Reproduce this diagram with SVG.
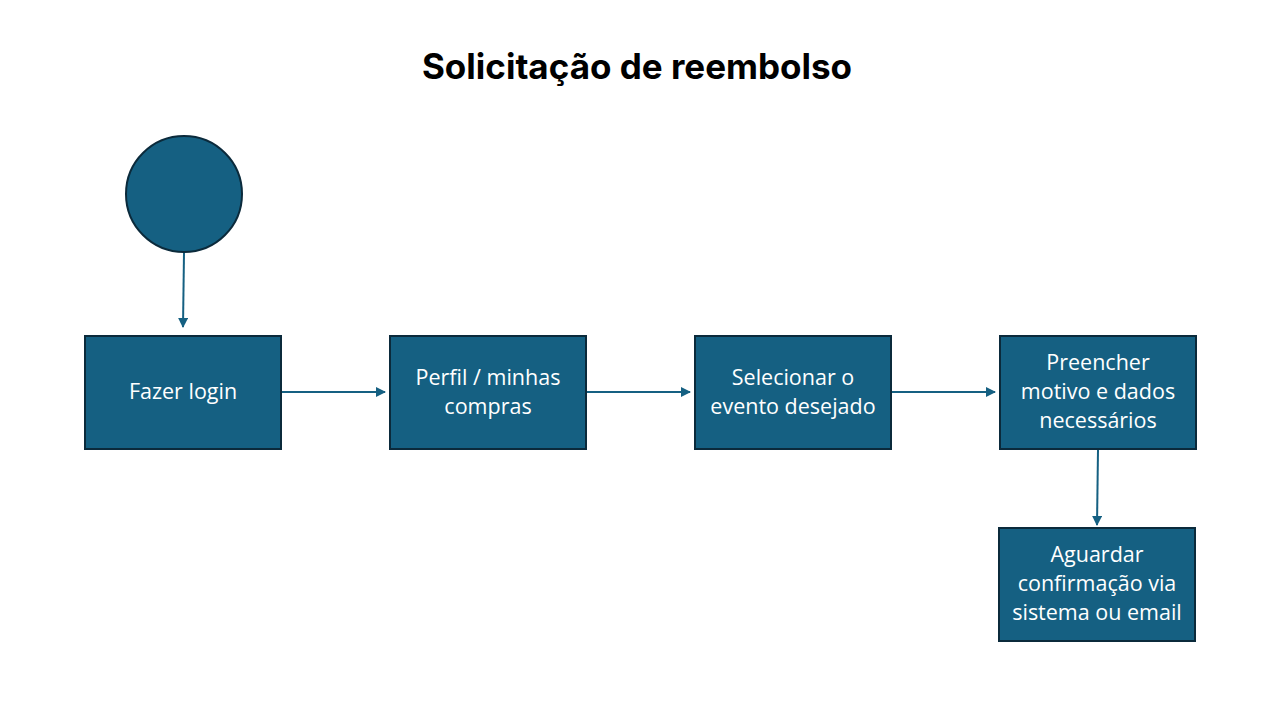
<svg xmlns="http://www.w3.org/2000/svg" width="1280" height="720" viewBox="0 0 1280 720">
<defs>
<style>
.box{fill:#156082;stroke:#0b2a3b;stroke-width:2}
.lbl{fill:#ffffff;font-family:"Open Sans","Liberation Sans",sans-serif;font-size:21.5px;text-anchor:middle}
.title{fill:#000;font-family:"Inter","Liberation Sans",sans-serif;font-weight:bold;font-size:35px;text-anchor:middle}
.conn{stroke:#156082;stroke-width:2;fill:none;marker-end:url(#ah)}
</style>
<marker id="ah" viewBox="0 0 10 10" refX="9" refY="5" markerWidth="5" markerHeight="5" orient="auto" markerUnits="strokeWidth">
<path d="M0,0 L10,5 L0,10 z" fill="#156082"/>
</marker>
</defs>
<rect width="1280" height="720" fill="#ffffff"/>
<text class="title" x="637" y="79">Solicitação de reembolso</text>
<g id="connectors">
<line class="conn" x1="184" y1="253" x2="183" y2="327"/>
<line class="conn" x1="282" y1="392" x2="385" y2="392"/>
<line class="conn" x1="587" y1="392" x2="690" y2="392"/>
<line class="conn" x1="892" y1="392" x2="995" y2="392"/>
<line class="conn" x1="1098" y1="450" x2="1097" y2="525"/>
</g>
<g id="start"><circle class="box" cx="184" cy="194" r="58"/></g>
<g id="n1"><rect class="box" x="85" y="336" width="196" height="113"/>
<text class="lbl" x="183" y="399">Fazer login</text></g>
<g id="n2"><rect class="box" x="390" y="336" width="196" height="113"/>
<text class="lbl" x="488" y="385">Perfil / minhas</text><text class="lbl" x="488" y="414">compras</text></g>
<g id="n3"><rect class="box" x="695" y="336" width="196" height="113"/>
<text class="lbl" x="793" y="385">Selecionar o</text><text class="lbl" x="793" y="414">evento desejado</text></g>
<g id="n4"><rect class="box" x="1000" y="336" width="196" height="113"/>
<text class="lbl" x="1098" y="370">Preencher</text><text class="lbl" x="1098" y="399">motivo e dados</text><text class="lbl" x="1098" y="428">necessários</text></g>
<g id="n5"><rect class="box" x="999" y="528" width="196" height="113"/>
<text class="lbl" x="1097" y="562">Aguardar</text><text class="lbl" x="1097" y="591">confirmação via</text><text class="lbl" x="1097" y="620">sistema ou email</text></g>
</svg>
